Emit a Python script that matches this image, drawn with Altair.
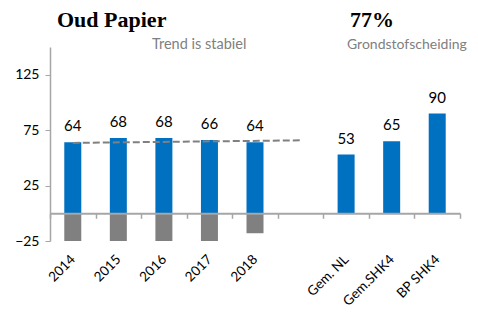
import altair as alt
import pandas as pd

categories = ["2014", "2015", "2016", "2017", "2018", " ", "Gem. NL", "Gem.SHK4", "BP SHK4"]
blue_cats = ["2014", "2015", "2016", "2017", "2018", "Gem. NL", "Gem.SHK4", "BP SHK4"]
blue_vals = [64, 68, 68, 66, 64, 53, 65, 90]
gray_cats = ["2014", "2015", "2016", "2017", "2018"]
gray_vals = [-25, -25, -25, -25, -18]
trend_cats = ["2014", " "]
trend_vals = [63.5, 65.8]

title_left = "Oud Papier"
title_right = "77%"
sub_left = "Trend is stabiel"
sub_right = "Grondstofscheiding"

FONT = "Lato"
BLUE = "#0070C0"
GRAY = "#808080"
AXIS_GRAY = "#A6A6A6"

blue_df = pd.DataFrame({"cat": blue_cats, "val": blue_vals})
gray_df = pd.DataFrame({"cat": gray_cats, "val": gray_vals})
trend_df = pd.DataFrame({"cat": trend_cats, "val": trend_vals})

W, H = 410, 194
ydom = [-25, 150]
zero_offset = -H * 25 / 175

x_scale = alt.Scale(domain=categories, paddingInner=0, paddingOuter=0)
y_scale = alt.Scale(domain=ydom, nice=False, zero=False)

x_enc = alt.X("cat:N", scale=x_scale, sort=categories, title=None,
              axis=alt.Axis(offset=zero_offset, domainColor=AXIS_GRAY, domainWidth=2,
                            tickColor=AXIS_GRAY, tickSize=5, tickWidth=1.5, tickBand="extent",
                            labelAngle=-45, labelAlign="right", labelBaseline="middle",
                            labelPadding=-zero_offset + 11, labelFont=FONT, labelFontSize=13.5,
                            labelColor="#000000", zindex=1))
y_enc = alt.Y("val:Q", scale=y_scale, title=None,
              axis=alt.Axis(values=[-25, 25, 75, 125], grid=False, domainColor=AXIS_GRAY,
                            domainWidth=1.5, tickColor=AXIS_GRAY, tickSize=5,
                            labelFont=FONT, labelFontSize=14, labelColor="#000000",
                            labelPadding=6))

blue = alt.Chart(blue_df).mark_bar(color=BLUE, size=17).encode(x=x_enc, y=y_enc)
gray = alt.Chart(gray_df).mark_bar(color=GRAY, size=17).encode(x=alt.X("cat:N", sort=categories), y="val:Q")
labels = alt.Chart(blue_df).mark_text(font=FONT, fontSize=15, baseline="alphabetic", dy=-11,
                                      color="#000000").encode(
    x=alt.X("cat:N", sort=categories), y="val:Q", text="val:Q")
trend = alt.Chart(trend_df).mark_line(color=GRAY, strokeDash=[7, 3], strokeWidth=2).encode(
    x=alt.X("cat:N", sort=categories), y="val:Q")

def txt(s, x, y, size, bold, color, font):
    return alt.Chart(pd.DataFrame({"t": [s]})).mark_text(
        align="left", baseline="alphabetic", fontSize=size,
        fontWeight="bold" if bold else "normal", color=color, font=font).encode(
        x=alt.value(x), y=alt.value(y), text="t:N")

titles = (txt(title_left, 7, -20, 22, True, "#000000", "Liberation Serif")
          + txt(title_right, 300, -20, 22, True, "#000000", "Liberation Serif")
          + txt(sub_left, 102, 2, 14.5, False, GRAY, FONT)
          + txt(sub_right, 297, 2, 14, False, GRAY, FONT))

chart = alt.layer(gray, blue, trend, labels, titles).properties(
    width=W, height=H,
    autosize=alt.AutoSizeParams(type="none"),
    padding={"left": 42, "top": 39, "right": 10, "bottom": 64},
).configure_view(stroke=None)

chart.save("out.html", embed_options={"renderer": "svg", "actions": False})
